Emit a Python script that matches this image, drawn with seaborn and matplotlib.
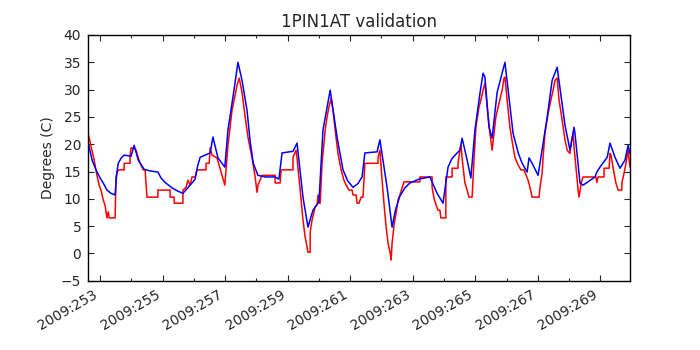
import numpy as np
import pandas as pd
import matplotlib
matplotlib.use("Agg")
import matplotlib.pyplot as plt
import seaborn as sns
from matplotlib.ticker import MultipleLocator, FuncFormatter

# telemetry (red, stepped) - day of year 2009, degrees C
tlm_day = [252.62, 252.68, 252.74, 252.81, 252.84, 252.90, 252.97, 253.03, 253.10, 253.16,
           253.22, 253.26, 253.29, 253.48, 253.51, 253.58, 253.77, 253.77, 253.96, 253.96,
           253.99, 254.09, 254.15, 254.22, 254.28, 254.38, 254.44, 254.50, 254.85, 254.85,
           255.24, 255.24, 255.37, 255.37, 255.65, 255.65, 255.75, 255.81, 255.88, 255.94,
           256.04, 256.10, 256.39, 256.39, 256.49, 256.52, 256.58, 256.74, 256.90, 256.99,
           257.09, 257.22, 257.32, 257.38, 257.45, 257.54, 257.64, 257.73, 257.86, 257.96,
           258.02, 258.05, 258.18, 258.60, 258.60, 258.76, 258.79, 259.17, 259.17, 259.27,
           259.30, 259.40, 259.49, 259.56, 259.62, 259.65, 259.72, 259.72, 259.78, 259.88,
           259.94, 259.97, 260.00, 260.04, 260.10, 260.20, 260.26, 260.32, 260.39, 260.45,
           260.52, 260.61, 260.71, 260.80, 260.87, 260.96, 261.06, 261.09, 261.19, 261.22,
           261.28, 261.35, 261.41, 261.44, 261.47, 261.89, 261.89, 261.95, 262.02, 262.09,
           262.15, 262.21, 262.28, 262.31, 262.34, 262.41, 262.47, 262.53, 262.59, 262.66,
           262.72, 263.23, 263.23, 263.62, 263.62, 263.68, 263.75, 263.81, 263.87, 263.90,
           264.06, 264.06, 264.26, 264.26, 264.45, 264.45, 264.51, 264.54, 264.61, 264.67,
           264.74, 264.80, 264.90, 264.96, 265.02, 265.12, 265.18, 265.25, 265.31, 265.38,
           265.47, 265.54, 265.60, 265.66, 265.76, 265.86, 265.92, 265.95, 266.02, 266.11,
           266.21, 266.27, 266.37, 266.46, 266.56, 266.69, 266.75, 266.82, 267.04, 267.07,
           267.14, 267.17, 267.23, 267.33, 267.42, 267.49, 267.55, 267.62, 267.68, 267.78,
           267.87, 267.94, 268.03, 268.07, 268.13, 268.16, 268.23, 268.29, 268.32, 268.39,
           268.45, 268.86, 268.89, 268.93, 269.12, 269.12, 269.28, 269.31, 269.34, 269.44,
           269.50, 269.57, 269.69, 269.69, 269.76, 269.82, 269.89, 269.95]
tlm_temp = [21.9, 20.4, 18.9, 17.1, 16.2, 14.3, 12.5, 11.6, 9.8, 8.8,
            6.5, 7.6, 6.5, 6.5, 14.0, 15.3, 15.3, 16.5, 16.5, 18.0,
            19.3, 19.3, 18.9, 17.5, 16.5, 15.3, 15.3, 10.3, 10.3, 11.6,
            11.6, 10.3, 10.3, 9.2, 9.2, 11.6, 12.1, 13.4, 12.5, 14.0,
            14.0, 15.3, 15.3, 16.5, 16.5, 19.3, 18.0, 17.5, 14.3, 12.5,
            19.8, 26.2, 29.0, 30.8, 32.1, 29.5, 25.0, 21.3, 17.5, 14.0,
            11.2, 12.5, 14.3, 14.3, 12.9, 12.9, 15.3, 15.3, 17.6, 18.9,
            17.4, 11.6, 6.1, 3.0, 1.2, 0.2, 0.2, 3.9, 6.1, 8.5,
            8.8, 10.7, 9.2, 9.2, 16.5, 22.6, 25.0, 26.8, 28.4, 26.2,
            22.6, 18.3, 15.3, 13.4, 12.5, 11.6, 11.6, 10.7, 10.7, 9.2,
            9.2, 10.3, 10.3, 13.4, 16.5, 16.5, 17.6, 18.9, 13.4, 8.5,
            4.8, 1.9, 0.0, -1.2, 1.9, 5.5, 7.4, 9.8, 10.7, 12.0,
            13.1, 13.1, 14.0, 14.0, 12.1, 10.1, 8.8, 7.9, 7.9, 6.5,
            6.5, 14.0, 14.0, 15.6, 15.6, 16.5, 18.9, 19.8, 15.8, 12.9,
            11.6, 10.3, 10.3, 17.1, 23.1, 26.8, 28.1, 29.9, 31.2, 26.8,
            22.0, 18.9, 22.0, 25.0, 27.5, 29.9, 32.1, 32.3, 28.1, 23.1,
            19.5, 17.6, 16.2, 15.3, 15.3, 13.4, 12.1, 10.3, 10.3, 12.1,
            14.7, 17.6, 22.0, 25.6, 28.1, 29.9, 31.7, 32.1, 28.1, 24.4,
            20.8, 18.9, 18.3, 20.2, 22.0, 19.5, 15.3, 11.6, 10.3, 12.9,
            14.0, 14.0, 13.0, 14.0, 14.0, 15.6, 15.6, 18.3, 18.0, 14.7,
            12.9, 11.6, 11.6, 12.9, 14.7, 16.5, 18.9, 15.8]

# model prediction (blue)
model_day = [252.62, 252.75, 252.87, 253.00, 253.10, 253.22, 253.35, 253.48, 253.53, 253.58,
             253.68, 253.77, 253.99, 254.09, 254.22, 254.41, 254.60, 254.85, 254.95, 255.08,
             255.30, 255.49, 255.65, 255.94, 256.04, 256.12, 256.20, 256.52, 256.61, 256.77,
             256.99, 257.09, 257.25, 257.41, 257.54, 257.70, 257.80, 257.90, 258.05, 258.28,
             258.60, 258.72, 258.82, 259.17, 259.30, 259.49, 259.65, 259.75, 259.81, 259.90,
             260.00, 260.13, 260.36, 260.58, 260.77, 260.92, 261.09, 261.25, 261.38, 261.47,
             261.86, 261.95, 262.18, 262.34, 262.45, 262.59, 262.75, 262.91, 263.20, 263.55,
             263.78, 263.97, 264.13, 264.25, 264.42, 264.51, 264.58, 264.74, 264.86, 264.99,
             265.15, 265.25, 265.31, 265.44, 265.54, 265.70, 265.95, 266.21, 266.38, 266.50,
             266.66, 266.72, 266.82, 267.01, 267.30, 267.46, 267.62, 267.87, 268.03, 268.16,
             268.19, 268.35, 268.45, 268.83, 268.89, 268.99, 269.22, 269.31, 269.47, 269.63,
             269.79, 269.89, 269.95]
model_temp = [20.2, 17.0, 15.3, 13.8, 12.9, 11.6, 11.0, 10.7, 14.5, 16.5,
              17.5, 18.0, 17.8, 19.8, 17.1, 15.4, 15.1, 14.9, 13.8, 13.0,
              12.0, 11.4, 11.0, 12.9, 13.6, 16.0, 17.6, 18.4, 21.3, 17.5,
              15.8, 22.6, 28.6, 35.0, 31.7, 26.2, 20.5, 16.5, 14.3, 14.0,
              14.0, 13.6, 18.4, 18.7, 20.2, 10.3, 4.8, 6.8, 7.9, 8.7,
              9.4, 22.6, 29.9, 21.3, 15.3, 13.3, 12.1, 12.8, 14.0, 18.4,
              18.6, 20.8, 12.1, 4.8, 8.0, 10.5, 12.0, 12.9, 13.6, 14.0,
              11.0, 9.2, 15.8, 17.3, 18.4, 18.9, 21.1, 17.1, 13.8, 22.6,
              29.3, 33.0, 32.3, 23.1, 21.1, 29.5, 35.0, 22.0, 18.3, 16.5,
              14.9, 17.5, 16.5, 14.3, 24.9, 31.7, 34.1, 23.5, 18.9, 23.1,
              22.0, 12.9, 12.5, 14.0, 14.9, 15.8, 17.6, 20.2, 17.6, 15.6,
              17.1, 19.8, 18.3]

tlm = pd.DataFrame({"day": tlm_day, "temp": tlm_temp})
model = pd.DataFrame({"day": model_day, "temp": model_temp})

sns.set_style("ticks")
plt.rcParams["font.family"] = ["DejaVu Sans"]
plt.rcParams["xtick.direction"] = "in"
plt.rcParams["ytick.direction"] = "in"

fig = plt.figure(figsize=(7, 3.5), dpi=100)
ax = fig.add_axes([0.126, 0.198, 0.774, 0.702])

sns.lineplot(data=tlm, x="day", y="temp", ax=ax, color="red", lw=1.1,
             estimator=None, sort=False)
sns.lineplot(data=model, x="day", y="temp", ax=ax, color="blue", lw=1.1,
             estimator=None, sort=False)

ax.set_xlim(252.62, 269.95)
ax.set_ylim(-5, 40)
ax.yaxis.set_major_locator(MultipleLocator(5))
ax.xaxis.set_major_locator(MultipleLocator(2, offset=1))
ax.xaxis.set_minor_locator(MultipleLocator(1))
ax.xaxis.set_major_formatter(FuncFormatter(lambda v, p: "2009:%03d" % round(v)))
ax.tick_params(which="both", top=True, right=True, labelsize=10, width=0.8)
ax.tick_params(which="major", length=4, pad=5)
ax.tick_params(which="minor", length=2)
for lab in ax.get_xticklabels():
    lab.set_rotation(30)
    lab.set_ha("right")
for s in ax.spines.values():
    s.set_visible(True)
    s.set_color("black")
    s.set_linewidth(1)

ax.set_title("1PIN1AT validation", fontsize=12)
ax.set_xlabel("")
ax.set_ylabel("Degrees (C)", fontsize=10)

fig.savefig("out.png", dpi=100)
